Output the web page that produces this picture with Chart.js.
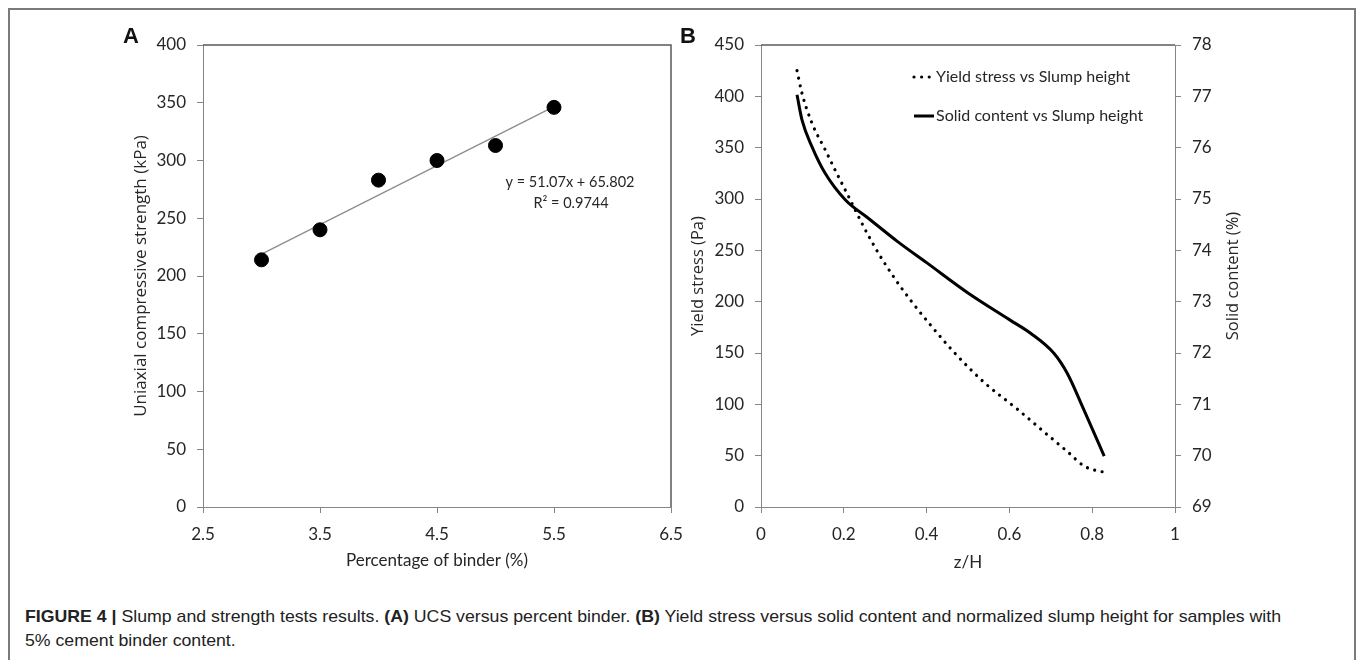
<!DOCTYPE html>
<html>
<head>
<meta charset="utf-8">
<script src="https://cdn.jsdelivr.net/npm/chart.js@4.4.1/dist/chart.umd.min.js"></script>
<style>
html,body{margin:0;padding:0;background:#fff;}
#wrap{position:relative;width:1357px;height:660px;overflow:hidden;background:#fff;}
#frame{position:absolute;left:8px;top:8px;width:1348px;height:720px;border:2px solid #7a7a7a;box-sizing:border-box;}
#cA{position:absolute;left:0;top:0;}
#cB{position:absolute;left:660px;top:0;}
.plabel{position:absolute;font-family:'Liberation Sans',Arial,sans-serif;font-weight:bold;font-size:22px;line-height:22px;color:#111;}
.cap{position:absolute;left:25px;font-family:'Liberation Sans',Arial,sans-serif;font-size:17px;line-height:17px;white-space:nowrap;transform-origin:0 0;color:#222;}
</style>
</head>
<body>
<div id="wrap">
  <div id="frame"></div>
  <canvas id="cA" width="700" height="600" style="width:700px;height:600px"></canvas>
  <canvas id="cB" width="697" height="600" style="width:697px;height:600px"></canvas>
  <div class="plabel" style="left:123px;top:25px">A</div>
  <div class="plabel" style="left:680px;top:25px">B</div>
  <div class="cap" id="cap1" style="top:608px"><b>FIGURE 4 |</b> Slump and strength tests results. <b>(A)</b> UCS versus percent binder. <b>(B)</b> Yield stress versus solid content and normalized slump height for samples with</div>
  <div class="cap" id="cap2" style="top:632px">5% cement binder content.</div>
</div>
<script>
// ---------- Panel A data ----------
const binderPct = [3.0, 3.5, 4.0, 4.5, 5.0, 5.5];
const ucsKPa = [214, 240, 283, 300, 313, 346];
const trendX = [3.0, 5.5];
const trendY = [219.0, 346.7];
const trendEquation = ['y = 51.07x + 65.802', 'R² = 0.9744'];
const xTicksA = [2.5, 3.5, 4.5, 5.5, 6.5];
const xTickLabelsA = ['2.5', '3.5', '4.5', '5.5', '6.5'];
const yTicksA = [0, 50, 100, 150, 200, 250, 300, 350, 400];
const yTickLabelsA = ['0', '50', '100', '150', '200', '250', '300', '350', '400'];

// ---------- Panel B data ----------
const zYield = [0.087, 0.099, 0.123, 0.155, 0.183, 0.212, 0.248, 0.284, 0.324, 0.364, 0.412, 0.468, 0.54, 0.62, 0.684, 0.74, 0.78, 0.805, 0.828];
const yieldPa = [425, 403, 374, 348, 325, 302, 273, 247, 222, 200, 176, 150, 121, 95, 73, 54, 40, 36, 34];
const zSolid = [0.087, 0.099, 0.123, 0.155, 0.204, 0.26, 0.33, 0.4, 0.5, 0.6, 0.652, 0.708, 0.74, 0.78, 0.829];
const solidPct = [77.03, 76.54, 76.02, 75.5, 74.98, 74.62, 74.17, 73.76, 73.17, 72.65, 72.38, 71.99, 71.6, 70.89, 69.99];
const xTicksB = [0, 0.2, 0.4, 0.6, 0.8, 1];
const xTickLabelsB = ['0', '0.2', '0.4', '0.6', '0.8', '1'];
const yTicksB = [0, 50, 100, 150, 200, 250, 300, 350, 400, 450];
const yTickLabelsB = ['0', '50', '100', '150', '200', '250', '300', '350', '400', '450'];
const y2TicksB = [69, 70, 71, 72, 73, 74, 75, 76, 77, 78];
const y2TickLabelsB = ['69', '70', '71', '72', '73', '74', '75', '76', '77', '78'];
const seriesNamesB = ['Yield stress vs Slump height', 'Solid content vs Slump height'];

const TXT = '#262626';
const AXIS = '#868686';
const tickFont = {family: 'Lato', size: 17};

function setTicks(values) { return function (scale) { scale.ticks = values.map(v => ({value: v})); }; }
function axisBase(values, labels) {
  return {
    type: 'linear',
    min: values[0], max: values[values.length - 1],
    afterBuildTicks: setTicks(values),
    ticks: {font: tickFont, color: TXT, padding: 11, callback: (v, i) => labels[i], autoSkip: false, maxRotation: 0},
    grid: {drawOnChartArea: false, drawTicks: true, tickLength: 6, color: AXIS, lineWidth: 1},
    border: {display: true, color: AXIS, width: 1}
  };
}

const boxPlugin = {
  id: 'boxLines',
  afterDatasetsDraw(chart, args, opts) {
    const {ctx, chartArea: a} = chart;
    ctx.save();
    ctx.strokeStyle = '#5a5a5a';
    ctx.lineWidth = 1.5;
    ctx.beginPath();
    ctx.moveTo(a.left, a.top);
    ctx.lineTo(a.right, a.top);
    if (opts.right) ctx.lineTo(a.right, a.bottom);
    ctx.stroke();
    ctx.restore();
  }
};

const eqPlugin = {
  id: 'eqText',
  afterDraw(chart) {
    const {ctx, chartArea: a} = chart;
    ctx.save();
    ctx.fillStyle = TXT;
    ctx.font = '14.5px Lato';
    ctx.textAlign = 'center';
    ctx.textBaseline = 'middle';
    ctx.fillText(trendEquation[0], a.left + 367, a.top + 137);
    ctx.fillText(trendEquation[1], a.left + 368, a.top + 158);
    ctx.restore();
  }
};

const legendPlugin = {
  id: 'legendB',
  afterDraw(chart) {
    const {ctx, chartArea: a} = chart;
    ctx.save();
    chart.data.datasets.forEach((ds, i) => {
      const y = a.top + 32 + i * 39;
      const x0 = a.left + 153;
      ctx.strokeStyle = ds.borderColor;
      ctx.lineWidth = ds.borderWidth;
      ctx.lineCap = ds.borderCapStyle || 'butt';
      ctx.setLineDash(ds.borderDash || []);
      ctx.beginPath();
      ctx.moveTo(x0, y);
      ctx.lineTo(x0 + 20, y);
      ctx.stroke();
      ctx.setLineDash([]);
      ctx.fillStyle = TXT;
      ctx.font = '16px Lato';
      ctx.textAlign = 'left';
      ctx.textBaseline = 'middle';
      ctx.fillText(ds.label, a.left + 175, y);
    });
    ctx.restore();
  }
};

const rightTitlePlugin = {
  id: 'rightTitle',
  afterDraw(chart) {
    const {ctx, chartArea: a} = chart;
    ctx.save();
    ctx.translate(a.right + 58, (a.top + a.bottom) / 2);
    ctx.rotate(-Math.PI / 2);
    ctx.fillStyle = TXT;
    ctx.font = '16.5px "Open Sans"';
    ctx.textAlign = 'center';
    ctx.textBaseline = 'middle';
    ctx.fillText('Solid content (%)', 0, 0);
    ctx.restore();
  }
};

// ---------- Chart A ----------
const xA = axisBase(xTicksA, xTickLabelsA);
xA.afterFit = s => { s.height = 93; };
xA.title = {display: true, text: 'Percentage of binder (%)', font: {family: 'Lato', size: 17}, color: TXT, padding: {top: 0, bottom: 29}};
const yA = axisBase(yTicksA, yTickLabelsA);
yA.afterFit = s => { s.width = 203; };
yA.title = {display: true, text: 'Uniaxial compressive strength (kPa)', font: {family: 'Open Sans', size: 17}, color: TXT, padding: {top: 131, bottom: 0}};

new Chart(document.getElementById('cA'), {
  type: 'scatter',
  data: {
    datasets: [
      {type: 'scatter', label: 'UCS', data: binderPct.map((x, i) => ({x: x, y: ucsKPa[i]})),
        pointRadius: 7, pointBackgroundColor: '#000', pointBorderColor: '#000', pointBorderWidth: 1, showLine: false, order: 1},
      {type: 'line', label: 'Linear trend', data: trendX.map((x, i) => ({x: x, y: trendY[i]})),
        borderColor: '#8c8c8c', borderWidth: 1.3, pointRadius: 0, fill: false, order: 2}
    ]
  },
  options: {
    responsive: false, animation: false,
    layout: {padding: {top: 45, right: 29, bottom: 0, left: 0}},
    plugins: {legend: {display: false}, tooltip: {enabled: false}, boxLines: {right: true}},
    scales: {x: xA, y: yA}
  },
  plugins: [boxPlugin, eqPlugin]
});

// ---------- Chart B ----------
const xB = axisBase(xTicksB, xTickLabelsB);
xB.afterFit = s => { s.height = 93; };
xB.title = {display: true, text: 'z/H', font: {family: 'Lato', size: 17}, color: TXT, padding: {top: 0, bottom: 27}};
const yB = axisBase(yTicksB, yTickLabelsB);
yB.position = 'left';
yB.afterFit = s => { s.width = 101; };
yB.title = {display: true, text: 'Yield stress (Pa)', font: {family: 'Open Sans', size: 16.5}, color: TXT, padding: {top: 28, bottom: 0}};
const y2B = axisBase(y2TicksB, y2TickLabelsB);
y2B.position = 'right';
y2B.afterFit = s => { s.width = 182; };

new Chart(document.getElementById('cB'), {
  type: 'line',
  data: {
    datasets: [
      {label: seriesNamesB[0], data: zYield.map((x, i) => ({x: x, y: yieldPa[i]})), yAxisID: 'y',
        borderColor: '#000', borderWidth: 3.2, borderDash: [0.01, 7.6], borderCapStyle: 'round',
        pointRadius: 0, cubicInterpolationMode: 'monotone', fill: false},
      {label: seriesNamesB[1], data: zSolid.map((x, i) => ({x: x, y: solidPct[i]})), yAxisID: 'y2',
        borderColor: '#000', borderWidth: 3, borderCapStyle: 'butt',
        pointRadius: 0, cubicInterpolationMode: 'monotone', fill: false}
    ]
  },
  options: {
    responsive: false, animation: false,
    layout: {padding: {top: 45, right: 0, bottom: 0, left: 0}},
    plugins: {legend: {display: false}, tooltip: {enabled: false}, boxLines: {right: false}},
    scales: {x: xB, y: yB, y2: y2B}
  },
  plugins: [boxPlugin, legendPlugin, rightTitlePlugin]
});

// ---------- caption width fit ----------
(function () {
  const c1 = document.getElementById('cap1');
  const c2 = document.getElementById('cap2');
  const w = c1.getBoundingClientRect().width;
  const s = 1256 / w;
  c1.style.transform = 'scaleX(' + s + ')';
  c2.style.transform = 'scaleX(' + s + ')';
})();
</script>
</body>
</html>
